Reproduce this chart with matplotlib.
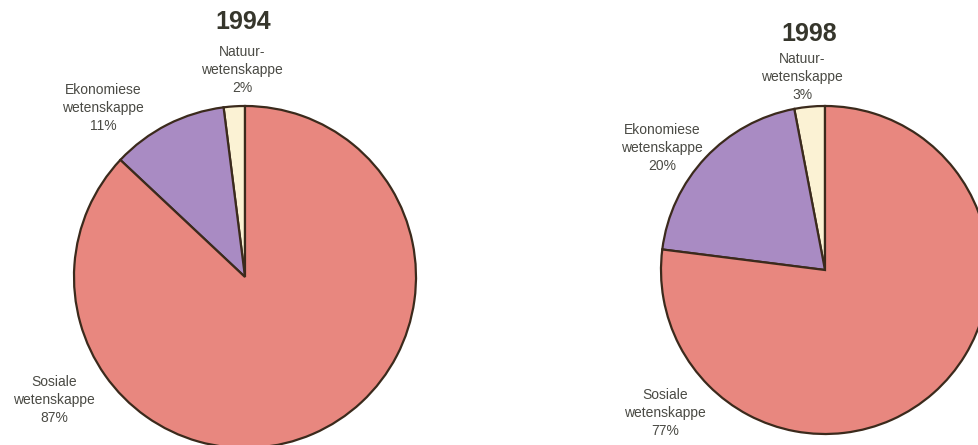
import matplotlib
matplotlib.use("Agg")
import matplotlib.pyplot as plt

plt.rcParams['font.family'] = ['Liberation Sans', 'DejaVu Sans']

categories = ["Natuur-\nwetenskappe", "Ekonomiese\nwetenskappe", "Sosiale\nwetenskappe"]
years = ["1994", "1998"]
values_1994 = [2, 11, 87]
values_1998 = [3, 20, 77]
colors = ["#FBF2D4", "#A98BC3", "#E8877F"]

W, H = 979, 445
fig = plt.figure(figsize=(W / 100, H / 100), dpi=100)
ax = fig.add_axes([0, 0, 1, 1])
ax.set_xlim(0, W)
ax.set_ylim(0, H)
ax.axis('off')

def py(y):
    return H - y

pies = [
    dict(vals=values_1994, year=years[0], center=(245, py(277)), r=171,
         title=(243, py(22)),
         labels=[(242, py(70)), (103, py(108)), (54, py(400))]),
    dict(vals=values_1998, year=years[1], center=(825, py(270)), r=164,
         title=(809, py(34)),
         labels=[(802, py(77)), (662, py(148)), (665, py(413))]),
]

for p in pies:
    ax.pie(p['vals'], colors=colors, startangle=90, counterclock=True,
           center=p['center'], radius=p['r'], frame=True,
           wedgeprops=dict(edgecolor="#3b2a1c", linewidth=1.6))
    ax.text(p['title'][0], p['title'][1], p['year'], ha='center', va='center',
            fontsize=18, fontweight='bold', color='#36362c')
    for (lx, ly), cat, v in zip(p['labels'], categories, p['vals']):
        ax.text(lx, ly, f"{cat}\n{v}%", ha='center', va='center',
                fontsize=10, color='#4a4a44', linespacing=1.35)

ax.set_xlim(0, W)
ax.set_ylim(0, H)
ax.axis('off')
fig.savefig("out.png", dpi=100)
